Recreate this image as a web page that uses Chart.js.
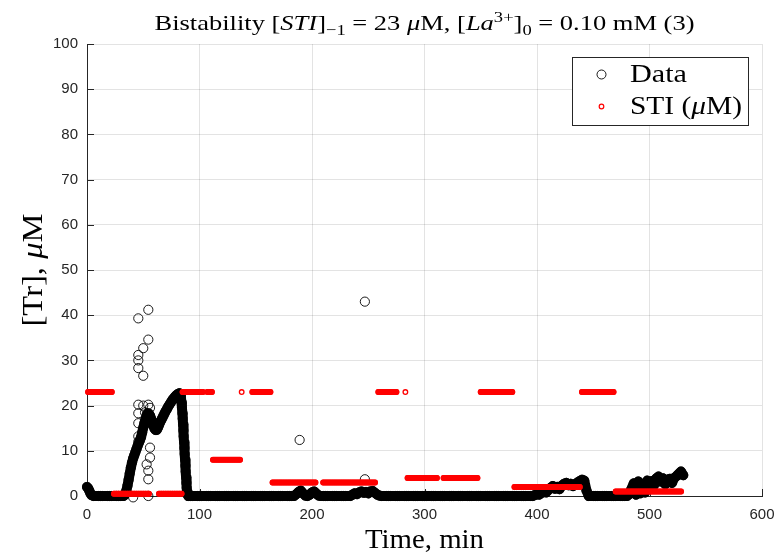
<!DOCTYPE html>
<html>
<head>
<meta charset="utf-8">
<title>Bistability run 3</title>
<script src="https://cdn.jsdelivr.net/npm/chart.js@4.4.1/dist/chart.umd.min.js"></script>
<style>
  html, body { margin: 0; padding: 0; background: #fff; }
  #chart { display: block; }
</style>
</head>
<body>
<canvas id="chart" width="776" height="552"></canvas>
<script>
/* ============================================
   [Tr] response vs time, STI steps overlaid
   ============================================ */

// measured trace: time (min) and [Tr] (uM)
const trTime = [
  0, 1, 2, 3, 4, 6, 8, 10, 12, 14, 16, 18, 20, 22, 24, 26, 28, 30, 32,
  33, 34, 35, 36, 37, 38, 39, 40, 41, 42, 43, 44, 45, 46, 47, 48, 49, 50,
  51, 52, 53, 54, 55, 56, 57, 58, 59, 60, 61, 62, 63, 64, 65, 66, 67, 68,
  69, 70, 71, 72, 73, 74, 75, 76, 77, 78, 79, 80, 81, 82,
  82.5, 83, 83.5, 84, 84.4, 84.8, 85.1, 85.4, 85.7, 86, 86.3, 86.6, 86.9,
  87.2, 87.5, 87.8, 88.1, 88.4, 88.7, 89, 89.5,
  90, 92, 94, 96, 98, 100, 102, 104, 106, 108, 110, 112, 114, 116, 118, 120,
  122, 124, 126, 128, 130, 132, 134, 136, 138, 140, 142, 144, 146, 148, 150,
  152, 154, 156, 158, 160, 162, 164, 166, 168, 170, 172, 174, 176, 178, 180,
  182, 184, 186, 188, 190, 192, 194, 196, 198, 200, 202, 204, 206, 208, 210,
  212, 214, 216, 218, 220, 222, 224, 226, 228, 230, 232, 234, 236, 238, 240,
  242, 244, 246, 248, 250, 252, 254, 256, 258, 260, 262, 264, 266, 268, 270,
  272, 274, 276, 278, 280, 282, 284, 286, 288, 290, 292, 294, 296, 298, 300,
  302, 304, 306, 308, 310, 312, 314, 316, 318, 320, 322, 324, 326, 328, 330,
  332, 334, 336, 338, 340, 342, 344, 346, 348, 350, 352, 354, 356, 358, 360,
  362, 364, 366, 368, 370, 372, 374, 376, 378, 380, 382, 384, 386, 388, 390,
  392, 394, 396, 398, 400, 402, 404, 406, 408, 410, 412, 414, 416, 418, 420,
  422, 424, 426, 428, 430, 432, 434, 436, 438, 440, 442, 444, 446, 448, 450,
  452, 454, 456, 458, 460, 462, 464, 466, 468, 470, 472, 474, 476, 478, 480,
  482, 484, 486, 488, 490, 492, 494, 496, 498, 500, 502, 504, 506, 508, 510,
  512, 514, 516, 518, 520, 522, 524, 526, 528, 530
];
const trValue = [
  2, 1.7, 1.2, 0.6, 0.2, 0, 0, 0, 0, 0, 0, 0, 0, 0, 0, 0, 0, 0, 0,
  0.1, 0.4, 1.2, 2.3, 3.6, 5, 6.3, 7.4, 8.3, 9, 9.7, 10.4, 11.1, 11.7, 12.3, 13, 14, 15.1,
  16.1, 17, 17.8, 18.3, 18.2, 17.8, 17.1, 16.3, 15.5, 14.9, 14.6, 14.6, 15.1, 15.7, 16.3, 16.8, 17.3, 17.8,
  18.3, 18.8, 19.2, 19.7, 20.1, 20.5, 20.9, 21.3, 21.6, 21.9, 22.2, 22.4, 22.6, 22.7,
  22.7, 22.4, 21.7, 20.7, 19.5, 18.3, 17.1, 15.8, 14.5, 13.2, 11.9, 10.6, 9.3,
  8, 6.7, 5.4, 4.1, 2.9, 1.8, 0.9, 0.3,
  0, 0, 0, 0, 0, 0, 0, 0, 0, 0, 0, 0, 0, 0, 0, 0,
  0, 0, 0, 0, 0, 0, 0, 0, 0, 0, 0, 0, 0, 0, 0,
  0, 0, 0, 0, 0, 0, 0, 0, 0, 0, 0, 0, 0, 0, 0,
  0, 0, 0.4, 0.9, 1.2, 0.6, 0.1, 0, 0.3, 0.8, 1, 0.5, 0.1, 0, 0,
  0, 0, 0, 0, 0, 0, 0, 0, 0, 0, 0, 0, 0.3, 0.6, 0.4,
  0.8, 1, 0.7, 0.9, 0.6, 1, 1.1, 0.7, 0.3, 0.1, 0, 0, 0, 0, 0,
  0, 0, 0, 0, 0, 0, 0, 0, 0, 0, 0, 0, 0, 0, 0,
  0, 0, 0, 0, 0, 0, 0, 0, 0, 0, 0, 0, 0, 0, 0,
  0, 0, 0, 0, 0, 0, 0, 0, 0, 0, 0, 0, 0, 0, 0,
  0, 0, 0, 0, 0, 0, 0, 0, 0, 0, 0, 0, 0, 0, 0,
  0, 0, 0, 0.2, 0.4, 0.3, 0.7, 1, 0.8, 1.3, 1.8, 2.2, 1.6, 2, 1.5,
  2.3, 2.7, 2.9, 2.4, 2.7, 2.2, 2.6, 3, 3.3, 3.6, 3.4, 1.2, 0, 0, 0,
  0, 0, 0, 0, 0, 0, 0, 0, 0, 0, 0, 0, 0, 0, 0,
  0.4, 1.6, 2.8, 0.3, 3.2, 0.6, 2.4, 0.8, 3.4, 2, 3.3, 2.4, 3.9, 4.3, 3.2,
  3.9, 2.6, 3.6, 3.8, 2.9, 4, 4.4, 4.9, 5.4, 4.6
];

// scattered single readings
const spikeTime = [54.5, 45.6, 54.5, 50, 45.6, 45.6, 45.6, 50, 45.6, 54.5, 56, 50, 45.6, 51.6,
                   45.6, 56, 45.6, 45.6, 56, 56, 53, 54.5, 54.5, 54.5, 41, 189, 247, 247];
const spikeValue = [41.2, 39.3, 34.6, 32.7, 31.2, 30, 28.3, 26.6, 20.2, 20.2, 19.5, 20, 18.3, 18.5,
                    16.1, 17.5, 13.2, 12, 10.7, 8.5, 7, 5.6, 3.7, 0, -0.3, 12.4, 43, 3.7];

// STI dosing (uM)
const stiTime = [
  1, 3, 5, 7, 9, 11, 13, 15, 17, 19, 21, 22,
  24, 26, 28, 30, 32, 34, 36, 38, 40, 42, 44, 46, 48, 50, 52, 54, 55,
  64, 66, 68, 70, 72, 74, 76, 78, 80, 82, 84,
  85, 87, 89, 91, 93, 95, 97, 99, 101, 103, 107, 109, 111,
  112, 114, 116, 118, 120, 122, 124, 126, 128, 130, 132, 134, 136,
  137.5,
  147, 149, 151, 153, 155, 157, 159, 161, 163,
  165, 167, 169, 171, 173, 175, 177, 179, 181, 183, 185, 187, 189, 191, 193, 195, 197, 199, 201, 203,
  210, 212, 214, 216, 218, 220, 222, 224, 226, 228, 230, 232, 234, 236, 238, 240, 242, 244, 246, 248, 250, 252, 254, 256,
  259, 261, 263, 265, 267, 269, 271, 273, 275, 283,
  285, 287, 289, 291, 293, 295, 297, 299, 301, 303, 305, 307, 309, 311,
  317, 319, 321, 323, 325, 327, 329, 331, 333, 335, 337, 339, 341, 343, 345, 347,
  350, 352, 354, 356, 358, 360, 362, 364, 366, 368, 370, 372, 374, 376, 378,
  380, 382, 384, 386, 388, 390, 392, 394, 396, 398, 400, 402, 404, 406, 408,
  410, 412, 414, 416, 418, 420, 422, 424, 426, 428, 430, 432, 434, 436, 438,
  440, 442, 444, 446, 448, 450, 452, 454, 456, 458, 460, 462, 464, 466, 468,
  470, 472, 474, 476, 478, 480, 482, 484, 486, 488, 490, 492, 494, 496, 498,
  500, 502, 504, 506, 508, 510, 512, 514, 516, 518, 520, 522, 524, 526, 528
];
const stiConc = [
  23, 23, 23, 23, 23, 23, 23, 23, 23, 23, 23, 23,
  0.5, 0.5, 0.5, 0.5, 0.5, 0.5, 0.5, 0.5, 0.5, 0.5, 0.5, 0.5, 0.5, 0.5, 0.5, 0.5, 0.5,
  0.5, 0.5, 0.5, 0.5, 0.5, 0.5, 0.5, 0.5, 0.5, 0.5, 0.5,
  23, 23, 23, 23, 23, 23, 23, 23, 23, 23, 23, 23, 23,
  8, 8, 8, 8, 8, 8, 8, 8, 8, 8, 8, 8, 8,
  23,
  23, 23, 23, 23, 23, 23, 23, 23, 23,
  3, 3, 3, 3, 3, 3, 3, 3, 3, 3, 3, 3, 3, 3, 3, 3, 3, 3, 3, 3,
  3, 3, 3, 3, 3, 3, 3, 3, 3, 3, 3, 3, 3, 3, 3, 3, 3, 3, 3, 3, 3, 3, 3, 3,
  23, 23, 23, 23, 23, 23, 23, 23, 23, 23,
  4, 4, 4, 4, 4, 4, 4, 4, 4, 4, 4, 4, 4, 4,
  4, 4, 4, 4, 4, 4, 4, 4, 4, 4, 4, 4, 4, 4, 4, 4,
  23, 23, 23, 23, 23, 23, 23, 23, 23, 23, 23, 23, 23, 23, 23,
  2, 2, 2, 2, 2, 2, 2, 2, 2, 2, 2, 2, 2, 2, 2,
  2, 2, 2, 2, 2, 2, 2, 2, 2, 2, 2, 2, 2, 2, 2,
  23, 23, 23, 23, 23, 23, 23, 23, 23, 23, 23, 23, 23, 23, 23,
  1, 1, 1, 1, 1, 1, 1, 1, 1, 1, 1, 1, 1, 1, 1,
  1, 1, 1, 1, 1, 1, 1, 1, 1, 1, 1, 1, 1, 1, 1
];

const xTicks = [0, 100, 200, 300, 400, 500, 600];
const yTicks = [0, 10, 20, 30, 40, 50, 60, 70, 80, 90, 100];

const AXIS_COLOR = '#262626';
const GRID_COLOR = 'rgba(38,38,38,0.13)';
const RED = '#ff0000';
const NONE = 'rgba(0,0,0,0)';
const SERIF = "'Liberation Serif', 'DejaVu Serif', serif";
const SANS = "'Liberation Sans', Arial, sans-serif";

// plain / italic / sub / superscript runs, LaTeX-ish
function runFont(style, size) {
  const small = style === 'sub' || style === 'sup';
  const s = small ? size * 0.7 : size;
  return (style === 'i' ? 'italic ' : '') + s + 'px ' + SERIF;
}

function richWidth(ctx, parts, size) {
  let w = 0;
  parts.forEach(([txt, style]) => { ctx.font = runFont(style, size); w += ctx.measureText(txt).width; });
  return w;
}

// draws the runs, stretched horizontally to `width` when given
function drawRich(ctx, parts, x, y, size, align, width) {
  const natural = richWidth(ctx, parts, size);
  const sx = width ? width / natural : 1;
  const x0 = align === 'center' ? x - natural * sx / 2 : x;
  ctx.save();
  ctx.translate(x0, y);
  ctx.scale(sx, 1);
  ctx.textAlign = 'left';
  ctx.textBaseline = 'alphabetic';
  let cx = 0;
  parts.forEach(([txt, style]) => {
    ctx.font = runFont(style, size);
    let dy = 0;
    if (style === 'sub') dy = size * 0.22;
    if (style === 'sup') dy = -size * 0.38;
    ctx.fillText(txt, cx, dy);
    cx += ctx.measureText(txt).width;
  });
  ctx.restore();
}

const titleParts = [
  ['Bistability ', 'r'], ['[', 'r'], ['STI', 'i'], [']', 'r'], ['\u22121', 'sub'],
  [' = 23 ', 'r'], ['\u03bc', 'i'], ['M, [', 'r'], ['La', 'i'], ['3+', 'sup'], [']', 'r'],
  ['0', 'sub'], [' = 0.10 mM (3)', 'r']
];
const yLabelParts = [['[Tr], ', 'r'], ['\u03bc', 'i'], ['M', 'r']];
const xLabelParts = [['Time, min', 'r']];

const figureText = {
  id: 'figureText',
  beforeDatasetsDraw(chart) {
    // inward tick marks on the two drawn axes
    const { ctx, chartArea: a, scales: { x, y } } = chart;
    ctx.save();
    ctx.strokeStyle = AXIS_COLOR;
    ctx.lineWidth = 1;
    ctx.beginPath();
    xTicks.forEach(v => {
      const px = Math.round(x.getPixelForValue(v)) + 0.5;
      ctx.moveTo(px, a.bottom); ctx.lineTo(px, a.bottom - 7);
    });
    yTicks.forEach(v => {
      const py = Math.round(y.getPixelForValue(v)) + 0.5;
      ctx.moveTo(a.left, py); ctx.lineTo(a.left + 7, py);
    });
    ctx.stroke();
    ctx.restore();
  },
  afterDraw(chart) {
    const { ctx, chartArea: a } = chart;
    ctx.save();
    ctx.fillStyle = '#000';
    const midX = (a.left + a.right) / 2;
    drawRich(ctx, titleParts, midX, 30, 22, 'center', 540);
    drawRich(ctx, xLabelParts, midX, 548, 27, 'center', 119);

    ctx.save();
    ctx.translate(42, (a.top + a.bottom) / 2);
    ctx.rotate(-Math.PI / 2);
    drawRich(ctx, yLabelParts, 0, 0, 29, 'center', 113);
    ctx.restore();

    // legend box
    const lx = 572.5, ly = 57.5, lw = 176, lh = 68;
    ctx.fillStyle = '#fff';
    ctx.fillRect(lx, ly, lw, lh);
    ctx.strokeStyle = AXIS_COLOR;
    ctx.lineWidth = 1;
    ctx.strokeRect(lx, ly, lw, lh);

    ctx.lineWidth = 0.9;
    ctx.strokeStyle = '#000';
    ctx.beginPath(); ctx.arc(601.5, 74.5, 4.5, 0, Math.PI * 2); ctx.stroke();
    ctx.strokeStyle = RED;
    ctx.lineWidth = 1.2;
    ctx.beginPath(); ctx.arc(601.5, 106.5, 2.3, 0, Math.PI * 2); ctx.stroke();

    ctx.fillStyle = '#000';
    drawRich(ctx, [['Data', 'r']], 630, 82, 25, 'left', 57);
    drawRich(ctx, [['STI (', 'r'], ['\u03bc', 'i'], ['M)', 'r']], 630, 114, 25, 'left', 112);
    ctx.restore();
  }
};

const trPoints = trTime.map((t, i) => ({ x: t, y: trValue[i] }));
const spikePoints = spikeTime.map((t, i) => ({ x: t, y: spikeValue[i] }));
const stiPoints = stiTime.map((t, i) => ({ x: t, y: stiConc[i] }));

// densely sampled markers merge into a band; the stroke reproduces that band
const ringStyle = {
  clip: false,
  pointStyle: 'circle',
  backgroundColor: NONE,
  tension: 0
};

new Chart(document.getElementById('chart').getContext('2d'), {
  type: 'scatter',
  data: {
    datasets: [
      {
        ...ringStyle,
        label: 'Data',
        data: trPoints,
        order: 3,
        showLine: true,
        borderWidth: 10,
        borderCapStyle: 'round',
        borderJoinStyle: 'round',
        borderColor: '#000',
        pointRadius: 4.6,
        pointHoverRadius: 4.6,
        pointBorderWidth: 0.9,
        pointBorderColor: '#000'
      },
      {
        ...ringStyle,
        label: 'Data (single)',
        data: spikePoints,
        order: 2,
        borderColor: '#000',
        pointRadius: 4.6,
        pointHoverRadius: 4.6,
        pointBorderWidth: 0.9
      },
      {
        ...ringStyle,
        label: 'STI (\u03bcM)',
        data: stiPoints,
        order: 1,
        showLine: true,
        borderWidth: 6,
        borderCapStyle: 'round',
        borderColor: RED,
        segment: {
          // only join consecutive samples of the same dose step
          borderColor: c => (c.p1.parsed.x - c.p0.parsed.x > 3 || c.p1.parsed.y !== c.p0.parsed.y) ? NONE : RED
        },
        pointRadius: 2.3,
        pointHoverRadius: 2.3,
        pointBorderWidth: 1.3,
        pointBorderColor: RED
      }
    ]
  },
  options: {
    responsive: false,
    animation: false,
    devicePixelRatio: 1,
    layout: { padding: { top: 44, right: 14, left: 0, bottom: 0 } },
    plugins: { legend: { display: false }, title: { display: false }, tooltip: { enabled: false } },
    scales: {
      x: {
        type: 'linear', min: 0, max: 600,
        afterBuildTicks: s => { s.ticks = xTicks.map(v => ({ value: v })); },
        afterFit: s => { s.height = 56; s.paddingLeft = 0; s.paddingRight = 14; },
        grid: { color: GRID_COLOR, drawTicks: false },
        border: { display: true, color: AXIS_COLOR, width: 1 },
        ticks: { color: AXIS_COLOR, padding: 10, maxRotation: 0, font: { family: SANS, size: 15 } }
      },
      y: {
        type: 'linear', min: 0, max: 100,
        afterBuildTicks: s => { s.ticks = yTicks.map(v => ({ value: v })); },
        afterFit: s => { s.width = 87; },
        grid: { color: GRID_COLOR, drawTicks: false },
        border: { display: true, color: AXIS_COLOR, width: 1 },
        ticks: { color: AXIS_COLOR, padding: 9, font: { family: SANS, size: 15 } }
      }
    }
  },
  plugins: [figureText]
});
</script>
</body>
</html>
